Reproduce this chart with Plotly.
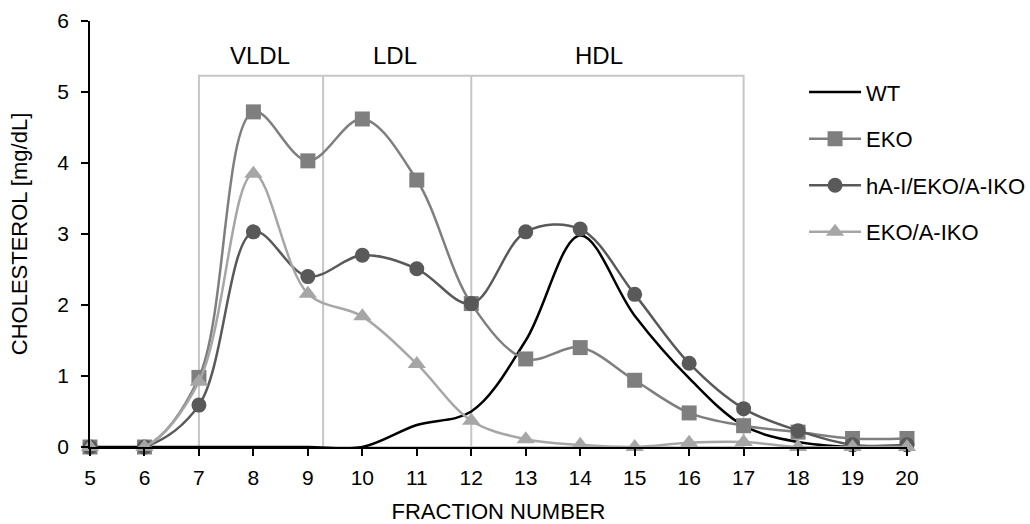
import plotly.graph_objects as go

fractions = [5, 6, 7, 8, 9, 10, 11, 12, 13, 14, 15, 16, 17, 18, 19, 20]
wt = [0, 0, 0, 0, 0, 0.0, 0.31, 0.50, 1.50, 2.98, 1.85, 0.97, 0.30, 0.07, 0.0, 0.0]
eko = [0, 0, 0.98, 4.72, 4.03, 4.62, 3.76, 2.02, 1.24, 1.40, 0.94, 0.48, 0.30, 0.21, 0.12, 0.12]
ha1 = [0, 0, 0.59, 3.03, 2.40, 2.70, 2.51, 2.02, 3.03, 3.07, 2.15, 1.18, 0.54, 0.23, 0.03, 0.03]
eko_aiko = [0, 0, 0.92, 3.85, 2.16, 1.84, 1.17, 0.37, 0.11, 0.03, 0.0, 0.06, 0.07, 0.0, 0.0, 0.0]

series_names = ["WT", "EKO", "hA-I/EKO/A-IKO", "EKO/A-IKO"]
region_labels = ["VLDL", "LDL", "HDL"]
region_bounds = [7, 9.28, 12, 17]
region_top = 5.23
label_x = [8.13, 10.6, 14.35]
label_y = 5.52

FONT = "Liberation Sans, Arial, sans-serif"

fig = go.Figure()

fig.add_trace(go.Scatter(x=fractions, y=wt, name=series_names[0], mode="lines",
                         line=dict(color="#000000", width=2.5, shape="spline", smoothing=1.0),
                         legendgroup="a", cliponaxis=False))
fig.add_trace(go.Scatter(x=fractions, y=eko, name=series_names[1], mode="lines+markers",
                         line=dict(color="#7f7f7f", width=2.5, shape="spline", smoothing=1.0),
                         marker=dict(symbol="square", size=15, color="#7f7f7f"),
                         legendgroup="b", cliponaxis=False))
fig.add_trace(go.Scatter(x=fractions, y=ha1, name=series_names[2], mode="lines+markers",
                         line=dict(color="#595959", width=2.5, shape="spline", smoothing=1.0),
                         marker=dict(symbol="circle", size=15, color="#595959"),
                         legendgroup="c", cliponaxis=False))
fig.add_trace(go.Scatter(x=fractions, y=eko_aiko, name=series_names[3], mode="lines+markers",
                         line=dict(color="#a6a6a6", width=2.5, shape="spline", smoothing=1.0),
                         marker=dict(symbol="triangle-up", size=16, color="#a6a6a6"),
                         legendgroup="d", cliponaxis=False))

box_color = "#c6c6c6"
fig.add_shape(type="rect", xref="x", yref="y", x0=region_bounds[0], x1=region_bounds[-1],
              y0=0, y1=region_top, line=dict(color=box_color, width=2), layer="below")
for b in region_bounds[1:-1]:
    fig.add_shape(type="line", xref="x", yref="y", x0=b, x1=b, y0=0, y1=region_top,
                  line=dict(color=box_color, width=2), layer="below")

for lab, lx in zip(region_labels, label_x):
    fig.add_annotation(x=lx, y=label_y, xref="x", yref="y", text=lab, showarrow=False,
                       font=dict(family=FONT, size=24, color="#000000"))

fig.update_layout(
    width=1030, height=524,
    margin=dict(l=90, r=123, t=21, b=77, autoexpand=False),
    paper_bgcolor="white", plot_bgcolor="white",
    font=dict(family=FONT, size=21, color="#000000"),
    showlegend=True,
    legend=dict(x=0.874, y=0.882, xanchor="left", yanchor="top",
                font=dict(family=FONT, size=22, color="#000000"),
                tracegroupgap=15, itemwidth=52, bgcolor="rgba(0,0,0,0)"),
    xaxis=dict(range=[5, 20], tickmode="array", tickvals=fractions,
               ticktext=[str(f) for f in fractions], automargin=False,
               showgrid=False, zeroline=False, showline=True, linecolor="#000000", linewidth=1.5,
               ticks="outside", ticklen=7, tickwidth=1.5, tickcolor="#000000",
               tickfont=dict(family=FONT, size=21, color="#000000"),
               ticklabelstandoff=4,
               title=dict(text="FRACTION NUMBER", standoff=16,
                          font=dict(family=FONT, size=22, color="#000000"))),
    yaxis=dict(range=[0, 6], tickvals=[0, 1, 2, 3, 4, 5, 6], automargin=False,
               showgrid=False, zeroline=False, showline=True, linecolor="#000000", linewidth=1.5,
               ticks="outside", ticklen=7, tickwidth=1.5, tickcolor="#000000",
               tickfont=dict(family=FONT, size=21, color="#000000"),
               ticklabelstandoff=8,
               title=dict(text="CHOLESTEROL [mg/dL]", standoff=24,
                          font=dict(family=FONT, size=22, color="#000000"))),
)

fig.write_html("out.html")
